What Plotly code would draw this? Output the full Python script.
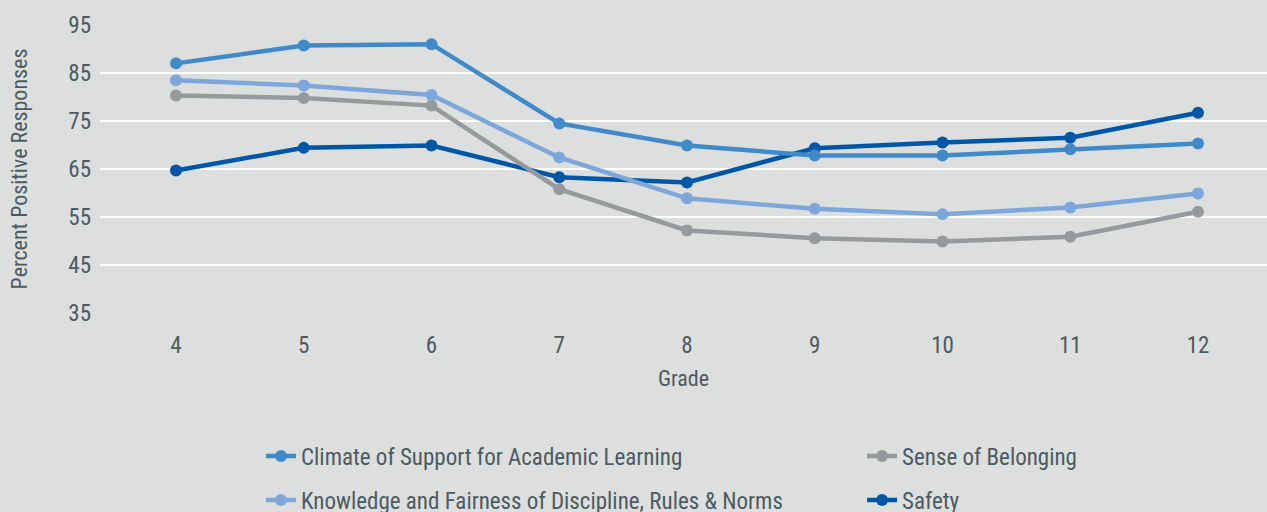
import plotly.graph_objects as go

grades = [4, 5, 6, 7, 8, 9, 10, 11, 12]
climate = [87.0, 90.7, 91.0, 74.5, 69.9, 67.8, 67.8, 69.1, 70.3]
knowledge = [83.5, 82.4, 80.4, 67.4, 58.9, 56.7, 55.6, 57.0, 59.9]
belonging = [80.3, 79.8, 78.2, 60.8, 52.2, 50.6, 49.9, 50.9, 56.1]
safety = [64.7, 69.4, 69.9, 63.3, 62.2, 69.3, 70.5, 71.5, 76.7]

y_ticks = [35, 45, 55, 65, 75, 85, 95]

BG = "#DCDFDE"
TXT = "#4C5B61"
FONT = "Liberation Sans Narrow, Roboto Condensed, Arial Narrow, sans-serif"

series = [
    ("Safety", safety, "#0057A8", "legend2", 4),
    ("Sense of Belonging", belonging, "#959B9C", "legend2", 3),
    ("Knowledge and Fairness of Discipline, Rules & Norms", knowledge, "#7DA7DA", "legend", 2),
    ("Climate of Support for Academic Learning", climate, "#418ACA", "legend", 1),
]

fig = go.Figure()
for name, vals, color, leg, rank in series:
    fig.add_trace(go.Scatter(
        x=grades, y=vals, name=name, mode="lines+markers",
        line=dict(color=color, width=4.5),
        marker=dict(color=color, size=12),
        legend=leg, legendrank=rank, legendgroup=name,
    ))

fig.update_layout(
    width=1267, height=512,
    paper_bgcolor=BG, plot_bgcolor=BG,
    margin=dict(l=100, r=0, t=24, b=198, autoexpand=False),
    font=dict(family=FONT, color=TXT, size=23),
    xaxis=dict(
        range=[3.405, 12.54], tickmode="array", tickvals=grades,
        ticktext=[str(g) for g in grades],
        showgrid=False, zeroline=False, showline=False,
        tickfont=dict(size=23, color=TXT),
        ticklabelstandoff=15,
        title=dict(text="Grade", font=dict(size=22, color=TXT), standoff=12),
    ),
    yaxis=dict(
        range=[34.8, 95.2], tickmode="array", tickvals=y_ticks,
        showgrid=True, gridcolor="#FFFFFF", gridwidth=2,
        zeroline=False, showline=False,
        tickfont=dict(size=23, color=TXT),
        ticklabelstandoff=8,
        title=dict(text="Percent Positive Responses", font=dict(size=22, color=TXT), standoff=34),
    ),
    legend=dict(
        x=0.138, y=-0.416,
        xanchor="left", yanchor="top", bgcolor="rgba(0,0,0,0)",
        font=dict(size=23, color=TXT), tracegroupgap=11, traceorder="grouped",
    ),
    legend2=dict(
        x=0.653, y=-0.416,
        xanchor="left", yanchor="top", bgcolor="rgba(0,0,0,0)",
        font=dict(size=23, color=TXT), tracegroupgap=11, traceorder="grouped",
    ),
)

fig.write_html("out.html", config={"displayModeBar": False},
               post_script="document.body.style.margin='0px';")
